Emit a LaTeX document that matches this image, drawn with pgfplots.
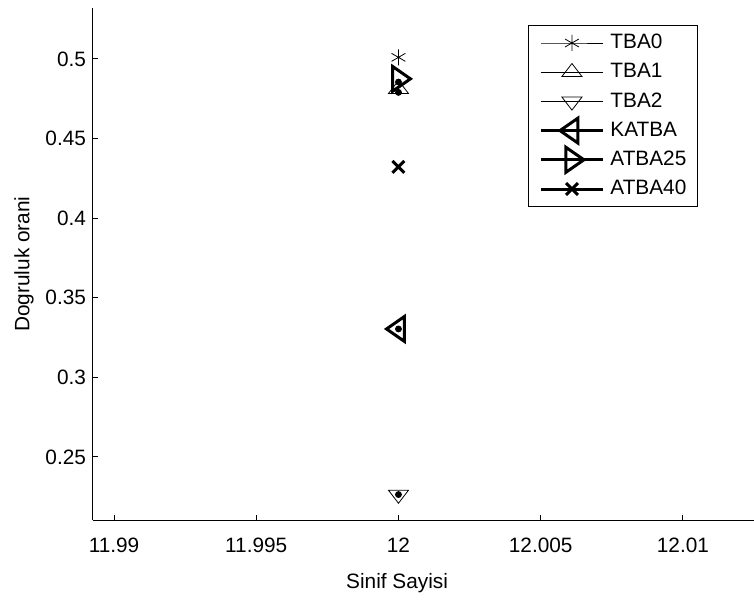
\documentclass[border=0pt]{standalone}
\usepackage{pgfplots}
\pgfplotsset{compat=1.18}
\usepackage{fontspec}
\setmainfont{Liberation Sans}
\begin{document}
\begin{tikzpicture}
\begin{axis}[
  name=ax,
  scale only axis,
  width=330.5pt, height=256pt,
  xmin=11.98926, xmax=12.0125,
  ymin=0.2104, ymax=0.532,
  axis x line*=bottom, axis y line*=left,
  axis line style={-, line width=0.5pt, black},
  xtick={11.99,11.995,12,12.005,12.01},
  xticklabels={11.99,11.995,12,12.005,12.01},
  ytick={0.25,0.3,0.35,0.4,0.45,0.5},
  yticklabels={0.25,0.3,0.35,0.4,0.45,0.5},
  tick align=inside,
  major tick length=2.5pt,
  tick style={black, line width=0.5pt},
  /pgf/number format/assume math mode=true,
  font=\fontsize{10.4}{12.5}\selectfont,
  ticklabel style={font=\fontsize{10.4}{12.5}\selectfont},
  xticklabel style={yshift=-5.5pt},
  xlabel={Sinif Sayisi},
  ylabel={Dogruluk orani},
  xlabel style={at={(axis description cs:0.46,-0.1035)}, anchor=north, inner sep=0pt},
  ylabel style={at={(axis description cs:-0.1044,0.5)}, anchor=center, inner sep=0pt},
  legend cell align=left,
  legend image code/.code={
    \path[draw=none,fill=none] (0pt,-7.3pt) rectangle (31pt,7.3pt);
    \draw[mark repeat=2,mark phase=2] plot coordinates {(0pt,0pt)(15.5pt,0pt)(31pt,0pt)};
  },
  legend style={at={(0.658,0.967)}, anchor=north west, draw=black, line width=0.5pt,
    inner xsep=5.5pt, inner ysep=1.5pt, row sep=0pt, column sep=3pt,
    nodes={inner sep=0pt, anchor=west},
    font=\fontsize{10.4}{12.5}\selectfont},
]
\addplot[black, line width=0.4pt, mark=asterisk, mark size=4pt, mark options={solid}]
  coordinates {(12,0.501)};
\addlegendentry{TBA0}
\addplot[black, line width=0.4pt, mark=triangle, mark size=5.8pt, mark options={solid, yscale=0.75}]
  coordinates {(12,0.481)};
\addlegendentry{TBA1}
\addplot[black, line width=0.4pt, mark=triangle, mark size=5.8pt, mark options={solid, rotate=180, yscale=0.75}]
  coordinates {(12,0.2264)};
\addlegendentry{TBA2}
\addplot[black, line width=1.5pt, mark=triangle, mark size=7.2pt, mark options={solid, rotate=90, yscale=0.83}]
  coordinates {(12,0.3304)};
\addlegendentry{KATBA}
\addplot[black, line width=1.5pt, mark=triangle, mark size=7.2pt, mark options={solid, rotate=-90, yscale=0.83}]
  coordinates {(12,0.4875)};
\addlegendentry{ATBA25}
\addplot[black, line width=1.5pt, mark=x, mark size=4.2pt, mark options={solid}]
  coordinates {(12,0.4322)};
\addlegendentry{ATBA40}
\addplot[black, only marks, mark=*, mark size=1.5pt, forget plot]
  coordinates {(12,0.4855)(12,0.479)(12,0.3304)(12,0.2264)};
\end{axis}
\pgfresetboundingbox
\path[use as bounding box] ([xshift=-46.5pt,yshift=-40.5pt]ax.south west) rectangle ([yshift=4pt]ax.north east);
\end{tikzpicture}
\end{document}
